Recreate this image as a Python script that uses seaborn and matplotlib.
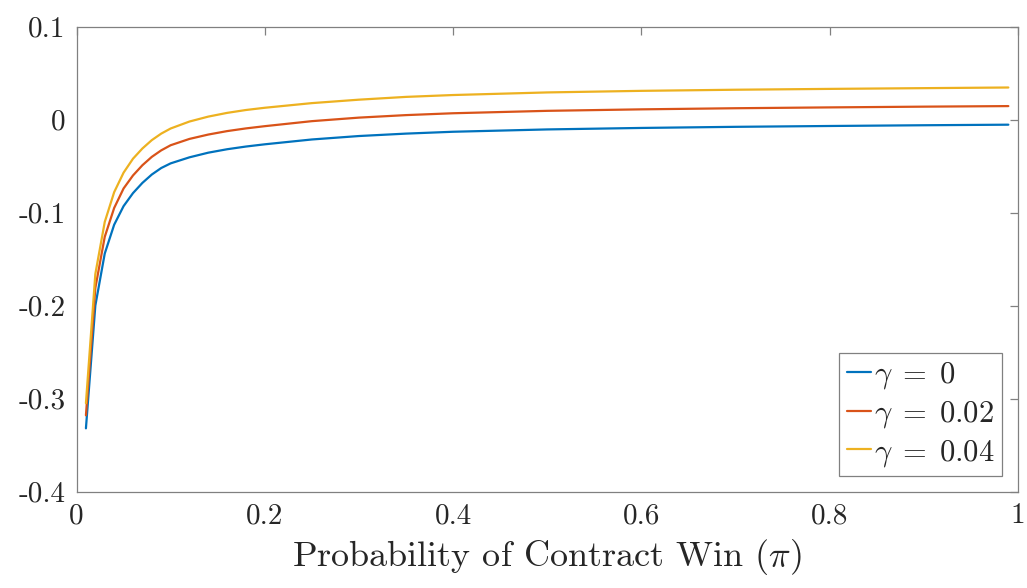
import pandas as pd
import matplotlib
matplotlib.use('Agg')
import matplotlib.pyplot as plt
import seaborn as sns

# Valores
pi_vals = [0.01, 0.02, 0.03, 0.04, 0.05, 0.06, 0.07, 0.08, 0.09, 0.10,
           0.12, 0.14, 0.16, 0.18, 0.20, 0.25, 0.30, 0.35, 0.40, 0.50,
           0.60, 0.70, 0.80, 0.90, 0.99]

gamma_0 = [-0.332, -0.200, -0.144, -0.113, -0.093, -0.079, -0.068, -0.059, -0.052, -0.047,
           -0.0405, -0.0355, -0.0318, -0.0289, -0.0265, -0.0213, -0.0176, -0.0150, -0.0130, -0.0105,
           -0.0089, -0.0077, -0.0068, -0.0060, -0.0054]

gamma_002 = [-0.318, -0.181, -0.126, -0.095, -0.074, -0.060, -0.049, -0.040, -0.033, -0.0275,
             -0.0207, -0.0160, -0.0123, -0.0094, -0.0070, -0.0016, 0.0022, 0.0049, 0.0069, 0.0095,
             0.0111, 0.0123, 0.0132, 0.0140, 0.0146]

gamma_004 = [-0.305, -0.166, -0.110, -0.078, -0.057, -0.042, -0.031, -0.022, -0.015, -0.0095,
             -0.0020, 0.0033, 0.0073, 0.0104, 0.0128, 0.0178, 0.0215, 0.0245, 0.0265, 0.0293,
             0.0310, 0.0322, 0.0331, 0.0339, 0.0346]

etiquetas = [r'$\gamma\;=\;0$', r'$\gamma\;=\;0.02$', r'$\gamma\;=\;0.04$']
colores = ['#0072BD', '#D95319', '#EDB120']

xticks = [0, 0.2, 0.4, 0.6, 0.8, 1]
xtick_labels = ['0', '0.2', '0.4', '0.6', '0.8', '1']
yticks = [-0.4, -0.3, -0.2, -0.1, 0, 0.1]
ytick_labels = ['-0.4', '-0.3', '-0.2', '-0.1', '0', '0.1']

# Tabla larga para seaborn
df = pd.concat([
    pd.DataFrame({'pi': pi_vals, 'valor': serie, 'gamma': etq})
    for serie, etq in zip([gamma_0, gamma_002, gamma_004], etiquetas)
], ignore_index=True)

sns.set_theme(style='white')
plt.rcParams['font.family'] = ['cmr10', 'DejaVu Serif']
plt.rcParams['mathtext.fontset'] = 'cm'
plt.rcParams['axes.unicode_minus'] = False
plt.rcParams['axes.formatter.use_mathtext'] = True

fig = plt.figure(figsize=(10.27, 5.88), dpi=100)
ax = fig.add_axes([0.0745, 0.164, 0.9165, 0.7906])

sns.lineplot(data=df, x='pi', y='valor', hue='gamma', hue_order=etiquetas,
             palette=colores, linewidth=1.6, ax=ax, legend=False, sort=False)

ax.set_xlim(0, 1)
ax.set_ylim(-0.4, 0.1)
ax.set_xticks(xticks)
ax.set_xticklabels(xtick_labels)
ax.set_yticks(yticks)
ax.set_yticklabels(ytick_labels)
ax.set_xlabel(r'Probability of Contract Win ($\pi$)', fontsize=26, labelpad=6)
ax.set_ylabel('')

for lado in ['left', 'right', 'top', 'bottom']:
    ax.spines[lado].set_visible(True)
    ax.spines[lado].set_color('#808080')
    ax.spines[lado].set_linewidth(0.9)

ax.tick_params(direction='in', length=6, width=0.9, color='#808080',
               top=True, right=True, labelsize=21, pad=8, labelcolor='#262626')

lineas = ax.get_lines()
ley = ax.legend(lineas[:3], etiquetas, loc='lower right', fontsize=22,
                frameon=True, fancybox=False, framealpha=1, edgecolor='#808080',
                handlelength=0.8, handletextpad=0.1, labelspacing=0.25,
                borderpad=0.25, borderaxespad=0.5)
ley.get_frame().set_linewidth(0.9)

fig.savefig('out.png', dpi=100)
